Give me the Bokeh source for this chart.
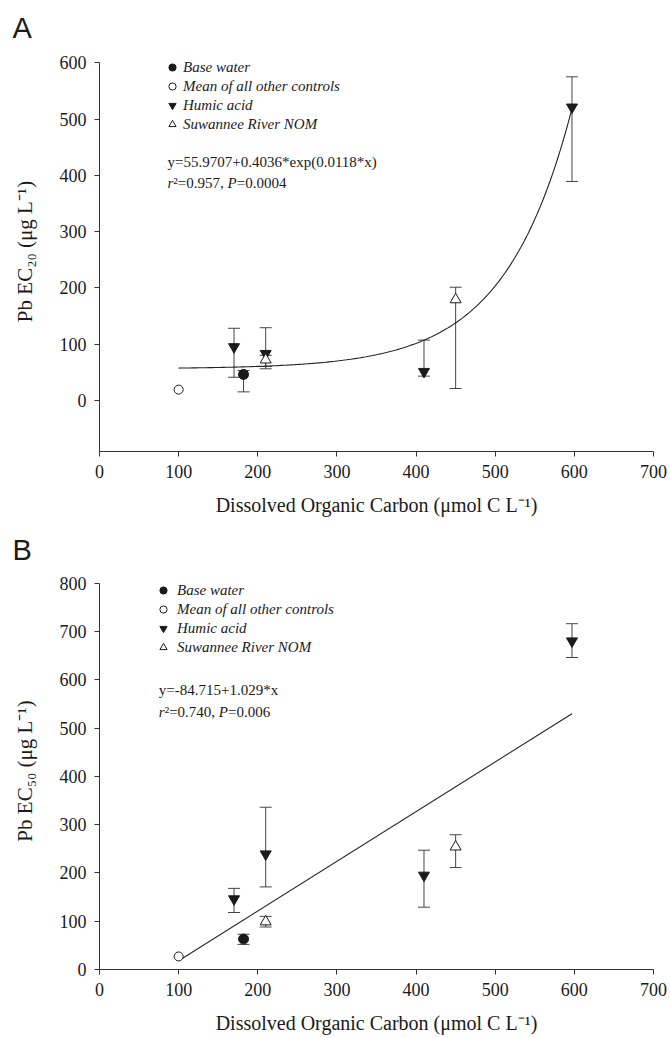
import numpy as np
from bokeh.plotting import figure
from bokeh.layouts import column
from bokeh.models import (ColumnDataSource, Whisker, TeeHead, Label, Legend,
                          LegendItem, FixedTicker, Range1d)
from bokeh.embed import file_html
from bokeh.resources import INLINE

# ---------------- data ----------------
x_ticks = [0, 100, 200, 300, 400, 500, 600, 700]
legend_labels = ["Base water", "Mean of all other controls", "Humic acid", "Suwannee River NOM"]
x_title = "Dissolved Organic Carbon (\u03bcmol C L\u207b\u00b9)"

ctrl_x = [100]
base_x = [182]
humic_x = [170, 210, 410, 597]
nom_x = [210, 450]

# Panel A: Pb EC20
ctrl_a = [19]
base_a = [46]
base_a_hi = [53]
base_a_lo = [15]
humic_a = [95, 83, 51, 521]
humic_a_hi = [128, 129, 107, 575]
humic_a_lo = [41, 60, 43, 389]
nom_a = [72, 179]
nom_a_hi = [80, 201]
nom_a_lo = [56, 21]
fit_a_coef = (55.9707, 0.4036, 0.0118)
yticks_a = [0, 100, 200, 300, 400, 500, 600]

# Panel B: Pb EC50
ctrl_b = [27]
base_b = [63]
base_b_hi = [73]
base_b_lo = [52]
humic_b = [146, 239, 195, 680]
humic_b_hi = [168, 336, 247, 716]
humic_b_lo = [118, 171, 129, 646]
nom_b = [99, 254]
nom_b_hi = [110, 279]
nom_b_lo = [88, 211]
fit_b_coef = (-84.715, 1.029)
yticks_b = [0, 100, 200, 300, 400, 500, 600, 700, 800]

fit_x_span = (100, 597)

SERIF = "Liberation Serif"
INK = "#1a1a1a"
BAR = "#444444"


def whisker(p, xs, lo, hi):
    src = ColumnDataSource(dict(x=xs, lo=lo, hi=hi))
    w = Whisker(source=src, base="x", lower="lo", upper="hi", dimension="height",
                line_color=BAR, line_width=1, level="underlay",
                upper_head=TeeHead(size=12, line_color=BAR, line_width=1),
                lower_head=TeeHead(size=12, line_color=BAR, line_width=1))
    p.add_layout(w)


def panel(height, top, bottom, yrange, ybounds, yticks, data, fit_x, fit_y,
          letter, letter_standoff, ylabel_text, eq1, eq2a, eq2b,
          eq_x, eq_y1, eq_y2, leg_loc, leg_standoff):
    p = figure(width=668, height=height, output_backend="svg", toolbar_location=None,
               x_range=Range1d(0, 700), y_range=Range1d(*yrange),
               min_border_left=99, min_border_right=15,
               min_border_top=top, min_border_bottom=bottom,
               title=letter)
    p.title.align = "left"
    p.title.offset = -87
    p.title.standoff = letter_standoff
    p.title.vertical_align = "top"
    p.title.text_line_height = 1.0
    p.title.text_font = "Liberation Sans"
    p.title.text_font_size = "29px"
    p.title.text_font_style = "normal"
    p.title.text_color = INK

    p.xgrid.visible = False
    p.ygrid.visible = False
    p.outline_line_color = None
    p.background_fill_color = "white"
    p.border_fill_color = "white"
    for ax, ticks in ((p.xaxis, x_ticks), (p.yaxis, yticks)):
        ax.ticker = FixedTicker(ticks=ticks)
        ax.major_label_text_font = SERIF
        ax.major_label_text_font_size = "18px"
        ax.major_label_text_color = INK
        ax.axis_line_color = "#333333"
        ax.major_tick_line_color = "#333333"
        ax.major_tick_out = 5
        ax.major_tick_in = 0
        ax.minor_tick_out = 0
        ax.minor_tick_in = 0
        ax.axis_label_text_font = SERIF
        ax.axis_label_text_font_style = "normal"
        ax.axis_label_text_color = INK
    p.yaxis.bounds = ybounds
    p.xaxis.major_label_standoff = 8
    p.yaxis.major_label_standoff = 8
    p.xaxis.axis_label = x_title
    p.xaxis.axis_label_text_font_size = "20px"
    p.xaxis.axis_label_standoff = 13
    p.yaxis.axis_label = ylabel_text
    p.yaxis.axis_label_text_font_size = "21px"
    p.yaxis.axis_label_standoff = 20

    (cx, cy), (bx, by, bhi, blo), (hx, hy, hhi, hlo), (nx, ny, nhi, nlo) = data
    whisker(p, bx, blo, bhi)
    whisker(p, hx, hlo, hhi)
    whisker(p, nx, nlo, nhi)

    p.line(fit_x, fit_y, line_color="#222222", line_width=1.1)

    r_base = p.scatter(bx, by, marker="circle", size=10, fill_color=INK, line_color=INK)
    r_ctrl = p.scatter(cx, cy, marker="circle", size=9, fill_color="white", line_color=INK, line_width=1)
    r_hum = p.scatter(hx, hy, marker="inverted_triangle", size=11, fill_color=INK, line_color=INK)
    r_nom = p.scatter(nx, ny, marker="triangle", size=11, fill_color="white", line_color=INK, line_width=1)

    legend = Legend(items=[LegendItem(label=legend_labels[0], renderers=[r_base]),
                           LegendItem(label=legend_labels[1], renderers=[r_ctrl]),
                           LegendItem(label=legend_labels[2], renderers=[r_hum]),
                           LegendItem(label=legend_labels[3], renderers=[r_nom])],
                    location=leg_loc, padding=0, margin=0, spacing=1,
                    glyph_width=18, glyph_height=18, label_height=18,
                    label_standoff=leg_standoff,
                    label_text_font=SERIF, label_text_font_style="italic",
                    label_text_font_size="15px", label_text_color=INK,
                    border_line_color=None, background_fill_alpha=0)
    p.add_layout(legend)

    # equation text
    common = dict(text_font=SERIF, text_font_size="15px", text_color=INK,
                  text_baseline="alphabetic", text_align="left")
    p.add_layout(Label(x=eq_x, y=eq_y1, text=eq1, **common))
    p.add_layout(Label(x=eq_x, y=eq_y2, text="r", text_font_style="italic", **common))
    p.add_layout(Label(x=eq_x, y=eq_y2, x_offset=5.8, text=eq2a, **common))
    p.add_layout(Label(x=eq_x, y=eq_y2, x_offset=60.0, text="P", text_font_style="italic", **common))
    p.add_layout(Label(x=eq_x, y=eq_y2, x_offset=69.2, text=eq2b, **common))
    return p


fx = np.linspace(fit_x_span[0], fit_x_span[1], 200)
fy_a = fit_a_coef[0] + fit_a_coef[1] * np.exp(fit_a_coef[2] * fx)
fy_b = fit_b_coef[0] + fit_b_coef[1] * np.array(fit_x_span)

pa = panel(525, 51, 74, (-91, 620), (-91, 600), yticks_a,
           ((ctrl_x, ctrl_a), (base_x, base_a, base_a_hi, base_a_lo),
            (humic_x, humic_a, humic_a_hi, humic_a_lo), (nom_x, nom_a, nom_a_hi, nom_a_lo)),
           fx, fy_a, "A", 11, "Pb EC\u2082\u2080 (\u03bcg L\u207b\u00b9)",
           "y=55.9707+0.4036*exp(0.0118*x)", "\u00b2=0.957, ", "=0.0004",
           86, 424, 386.7, (64, 318), 2)

pb = panel(511, 47, 65, (0, 822), (0, 800), yticks_b,
           ((ctrl_x, ctrl_b), (base_x, base_b, base_b_hi, base_b_lo),
            (humic_x, humic_b, humic_b_hi, humic_b_lo), (nom_x, nom_b, nom_b_hi, nom_b_lo)),
           list(fit_x_span), fy_b, "B", 9, "Pb EC\u2085\u2080 (\u03bcg L\u207b\u00b9)",
           "y=-84.715+1.029*x", "\u00b2=0.740, ", "=0.006",
           75, 579, 533.6, (55, 313), 5)

layout = column(pa, pb, spacing=0)
open("out.html", "w").write(file_html(layout, INLINE))
